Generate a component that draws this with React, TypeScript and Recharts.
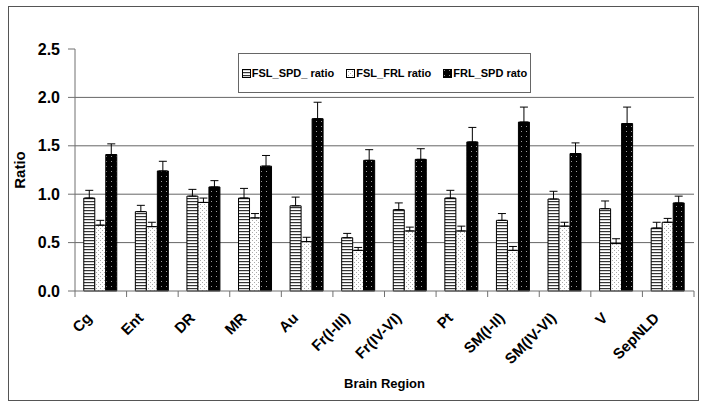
import { BarChart, Bar, XAxis, YAxis, CartesianGrid, ErrorBar } from 'recharts';

const categories = ['Cg', 'Ent', 'DR', 'MR', 'Au', 'Fr(I-III)', 'Fr(IV-VI)', 'Pt', 'SM(I-II)', 'SM(IV-VI)', 'V', 'SepNLD'];

const fslSpd = [0.96, 0.82, 0.98, 0.96, 0.88, 0.55, 0.84, 0.96, 0.73, 0.95, 0.85, 0.65];
const fslSpdErr = [0.08, 0.065, 0.07, 0.1, 0.09, 0.045, 0.07, 0.08, 0.07, 0.08, 0.08, 0.06];

const fslFrl = [0.68, 0.665, 0.915, 0.755, 0.51, 0.42, 0.62, 0.62, 0.42, 0.67, 0.49, 0.71];
const fslFrlErr = [0.05, 0.045, 0.045, 0.045, 0.045, 0.03, 0.04, 0.05, 0.04, 0.04, 0.05, 0.04];

const frlSpd = [1.41, 1.24, 1.075, 1.29, 1.78, 1.35, 1.36, 1.54, 1.745, 1.42, 1.73, 0.91];
const frlSpdErr = [0.11, 0.1, 0.065, 0.11, 0.17, 0.11, 0.11, 0.15, 0.155, 0.11, 0.17, 0.07];

const seriesNames = ['FSL_SPD_ ratio', 'FSL_FRL ratio', 'FRL_SPD rato'];
const seriesFills = ['url(#pHoriz)', 'url(#pDots)', 'url(#pDark)'];

const yTicks = [0, 0.5, 1, 1.5, 2, 2.5];
const gridValues = [0.5, 1, 1.5, 2];

const data = categories.map((name, i) => ({
  name,
  fslSpd: fslSpd[i],
  fslSpdErr: [0, fslSpdErr[i]],
  fslFrl: fslFrl[i],
  fslFrlErr: [0, fslFrlErr[i]],
  frlSpd: frlSpd[i],
  frlSpdErr: [0, frlSpdErr[i]],
}));

const FONT = 'Arial, "Liberation Sans", sans-serif';
const AXIS = '#707070';

// category label rotated 45deg, plus tick marks on the category boundaries
function RegionTick(props: any) {
  const { x, y, payload, index } = props;
  const half = payload.offset ?? 0;
  const tx = x - 8;
  const ty = y + 28;
  return (
    <g>
      {half > 0 && <line x1={x - half} y1={y} x2={x - half} y2={y + 6} stroke={AXIS} />}
      {half > 0 && index === categories.length - 1 && (
        <line x1={x + half} y1={y} x2={x + half} y2={y + 6} stroke={AXIS} />
      )}
      <text
        x={tx}
        y={ty}
        transform={`rotate(-45 ${tx} ${ty})`}
        textAnchor="end"
        fontFamily={FONT}
        fontWeight="bold"
        fontSize={15}
        fill="#000"
      >
        {payload.value}
      </text>
    </g>
  );
}

export default function App() {
  return (
    <div style={{ position: 'absolute', left: 0, top: 0, width: 703, height: 407, background: '#fff' }}>
      <div
        style={{
          position: 'absolute',
          left: 8,
          top: 6,
          width: 691,
          height: 395,
          border: '1px solid #555',
          boxSizing: 'border-box',
        }}
      />
      <div style={{ position: 'absolute', left: 0, top: 0 }}>
        <BarChart
          width={703}
          height={407}
          data={data}
          margin={{ top: 49, right: 9, left: 15, bottom: 16 }}
          barCategoryGap="17%"
          barGap={0}
        >
          <defs>
            <pattern id="pHoriz" width="4" height="3" patternUnits="userSpaceOnUse">
              <rect width="4" height="3" fill="#fff" />
              <rect width="4" height="1.2" fill="#333" />
            </pattern>
            <pattern id="pDots" width="4" height="4" patternUnits="userSpaceOnUse">
              <rect width="4" height="4" fill="#fff" />
              <rect x="0" y="0" width="1" height="1" fill="#aaa" />
              <rect x="2" y="2" width="1" height="1" fill="#aaa" />
            </pattern>
            <pattern id="pDark" width="5" height="5" patternUnits="userSpaceOnUse">
              <rect width="5" height="5" fill="#000" />
              <rect x="1" y="1" width="1" height="1" fill="#999" />
            </pattern>
          </defs>
          <CartesianGrid vertical={false} horizontalValues={gridValues} stroke="#666" strokeWidth={1} />
          <XAxis
            dataKey="name"
            interval={0}
            tick={<RegionTick />}
            tickLine={false}
            tickSize={0}
            tickMargin={0}
            height={100}
            axisLine={{ stroke: AXIS }}
            label={{
              value: 'Brain Region',
              position: 'insideBottom',
              offset: 3,
              fill: '#000',
              fontFamily: FONT,
              fontWeight: 'bold',
              fontSize: 13,
            }}
          />
          <YAxis
            domain={[0, 2.5]}
            ticks={yTicks}
            interval={0}
            width={60}
            tickFormatter={(v: number) => v.toFixed(1)}
            tick={{ fill: '#000', fontFamily: FONT, fontWeight: 'bold', fontSize: 16 }}
            tickSize={7}
            tickMargin={8}
            tickLine={{ stroke: AXIS }}
            axisLine={{ stroke: AXIS }}
            label={{
              value: 'Ratio',
              angle: -90,
              position: 'insideLeft',
              offset: 5,
              fill: '#000',
              fontFamily: FONT,
              fontWeight: 'bold',
              fontSize: 15,
              style: { textAnchor: 'middle' },
            }}
          />
          <Bar dataKey="fslSpd" name={seriesNames[0]} fill={seriesFills[0]} stroke="#000" strokeWidth={1} isAnimationActive={false}>
            <ErrorBar dataKey="fslSpdErr" width={4} stroke="#000" strokeWidth={1} direction="y" />
          </Bar>
          <Bar dataKey="fslFrl" name={seriesNames[1]} fill={seriesFills[1]} stroke="#000" strokeWidth={1} isAnimationActive={false}>
            <ErrorBar dataKey="fslFrlErr" width={4} stroke="#000" strokeWidth={1} direction="y" />
          </Bar>
          <Bar dataKey="frlSpd" name={seriesNames[2]} fill={seriesFills[2]} stroke="#000" strokeWidth={1} isAnimationActive={false}>
            <ErrorBar dataKey="frlSpdErr" width={4} stroke="#000" strokeWidth={1} direction="y" />
          </Bar>
        </BarChart>
      </div>
      <div
        style={{
          position: 'absolute',
          left: 238,
          top: 53,
          width: 293,
          height: 40,
          border: '1px solid #666',
          boxSizing: 'border-box',
          display: 'flex',
          alignItems: 'center',
          justifyContent: 'center',
          gap: 12,
          fontFamily: FONT,
          fontWeight: 'bold',
          fontSize: 11,
          color: '#000',
        }}
      >
        {seriesNames.map((n, i) => (
          <div key={n} style={{ display: 'flex', alignItems: 'center' }}>
            <svg width={9} height={9} style={{ marginRight: 1 }}>
              <rect x={0.5} y={0.5} width={8} height={8} fill={seriesFills[i]} stroke="#000" strokeWidth={1} />
            </svg>
            <span>{n}</span>
          </div>
        ))}
      </div>
    </div>
  );
}
